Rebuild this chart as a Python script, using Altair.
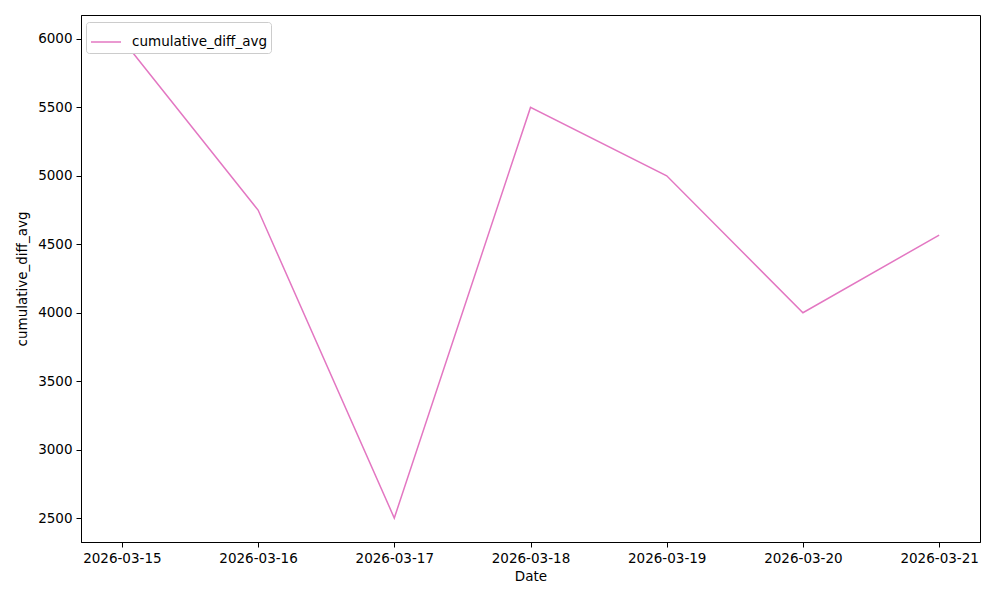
import altair as alt
import pandas as pd

dates = ["2026-03-15", "2026-03-16", "2026-03-17", "2026-03-18", "2026-03-19", "2026-03-20", "2026-03-21"]
values = [6000, 4750, 2500, 5500, 5000, 4000, 4567]
series = ["cumulative_diff_avg"] * len(dates)
y_ticks = [2500, 3000, 3500, 4000, 4500, 5000, 5500, 6000]

df = pd.DataFrame({"Date": dates, "value": values, "series": series})

FONT = "DejaVu Sans"

x_domain = [
    alt.DateTime(year=2026, month=3, date=14, hours=16, minutes=48, utc=True),
    alt.DateTime(year=2026, month=3, date=21, hours=7, minutes=12, utc=True),
]
x_vals = [alt.DateTime(year=2026, month=3, date=d, utc=True) for d in range(15, 22)]

chart = alt.Chart(df).mark_line(strokeWidth=1.5).encode(
    x=alt.X("Date:T",
            scale=alt.Scale(type="utc", domain=x_domain, nice=False),
            axis=alt.Axis(values=x_vals, labelExpr="utcFormat(datum.value, '%Y-%m-%d')", title="Date",
                          grid=False, tickSize=5, labelPadding=4, titlePadding=5,
                          labelFontSize=13.5, titleFontSize=13.5, labelFont=FONT, titleFont=FONT,
                          titleFontWeight="normal", labelColor="black", titleColor="black",
                          domainColor="black", tickColor="black", labelFlush=False, labelOverlap=False)),
    y=alt.Y("value:Q",
            scale=alt.Scale(domain=[2325, 6175], nice=False, zero=False),
            axis=alt.Axis(values=y_ticks, format="d", title="cumulative_diff_avg",
                          grid=False, tickSize=5, labelPadding=4, titlePadding=8,
                          labelFontSize=13.5, titleFontSize=13.5, labelFont=FONT, titleFont=FONT,
                          titleFontWeight="normal", labelColor="black", titleColor="black",
                          domainColor="black", tickColor="black")),
    color=alt.Color("series:N", scale=alt.Scale(range=["#e377c2"]),
                    legend=alt.Legend(orient="none", legendX=5, legendY=7, title=None,
                                      strokeColor="#cccccc", fillColor="white", cornerRadius=3,
                                      padding=4, symbolType="stroke", symbolSize=900,
                                      symbolStrokeWidth=1.5, labelFontSize=13.5, labelFont=FONT,
                                      labelColor="black", labelOffset=10)),
).properties(
    width=899, height=527,
    autosize=alt.AutoSizeParams(type="none"),
    padding={"left": 73, "top": 7, "right": 10, "bottom": 50},
).configure_view(stroke="black", strokeWidth=1)

chart.save("out.html", embed_options={"renderer": "svg", "actions": False})
